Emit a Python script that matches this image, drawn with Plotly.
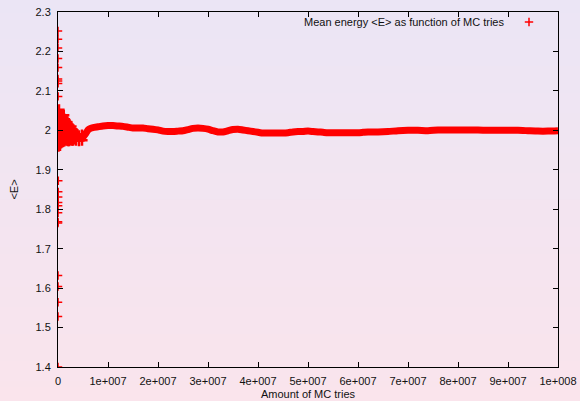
import plotly.graph_objects as go

# ---------------- data ----------------
legend_label = "Mean energy <E> as function of MC tries"
x_title = "Amount of MC tries"
y_title = "<E>"

x_tick_vals = [0, 1e7, 2e7, 3e7, 4e7, 5e7, 6e7, 7e7, 8e7, 9e7, 1e8]
x_tick_text = ["0", "1e+007", "2e+007", "3e+007", "4e+007", "5e+007",
               "6e+007", "7e+007", "8e+007", "9e+007", "1e+008"]
y_tick_vals = [1.4, 1.5, 1.6, 1.7, 1.8, 1.9, 2.0, 2.1, 2.2, 2.3]
y_tick_text = ["1.4", "1.5", "1.6", "1.7", "1.8", "1.9", "2", "2.1", "2.2", "2.3"]

# first few MC tries: widely scattered running means
early_x = [1e3, 2e3, 3e3, 4e3, 5e3, 6e3, 7e3, 8e3, 9e3, 1e4, 1.2e4,
           1.4e4, 1.6e4, 1.8e4, 2e4, 2.3e4, 2.6e4, 3e4, 3.5e4, 4e4, 5e4, 6e4]
early_E = [1.400, 2.252, 1.528, 2.231, 1.564, 2.209, 1.604, 2.182, 1.632, 2.159,
           1.765, 2.130, 1.768, 2.125, 1.791, 2.119, 1.809, 2.086, 1.817, 1.831,
           1.844, 1.872]

# noisy start (0 - 6e6 tries)
blob_x = [1e5]*7 + [2e5]*6 + [3e5]*6 + [4e5]*6 + [5e5]*6 + [6e5]*5 + [7e5]*5 + \
         [8.5e5]*5 + [1.0e6]*5 + [1.15e6]*4 + [1.3e6]*4 + [1.45e6]*4 + \
         [1.6e6]*4 + [1.8e6]*4 + [2.0e6]*4 + [2.2e6]*4 + [2.4e6]*3 + [2.6e6]*3 + \
         [2.8e6]*3 + [3.0e6]*3 + [3.2e6]*2 + [3.6e6]*2 + [4.2e6]*2 + [4.8e6]*2
blob_E = [2.048, 2.035, 2.020, 2.005, 1.990, 1.975, 1.960,
          2.052, 2.035, 2.015, 1.995, 1.978, 1.962,
          2.040, 2.022, 2.005, 1.990, 1.975, 1.965,
          2.038, 2.020, 2.000, 1.985, 1.972, 1.962,
          2.035, 2.025, 2.010, 1.995, 1.980, 1.970,
          2.030, 2.012, 1.995, 1.980, 1.968,
          2.030, 2.012, 1.997, 1.982, 1.970,
          2.035, 2.018, 2.000, 1.985, 1.972,
          2.032, 2.015, 2.000, 1.985, 1.975,
          2.038, 2.020, 2.000, 1.980,
          2.028, 2.010, 1.995, 1.978,
          2.025, 2.008, 1.990, 1.976,
          2.018, 2.003, 1.990, 1.978,
          2.020, 2.002, 1.988, 1.975,
          2.015, 2.000, 1.985, 1.974,
          2.012, 1.998, 1.984, 1.974,
          2.008, 1.992, 1.976,
          2.010, 1.995, 1.978,
          2.003, 1.988, 1.975,
          2.000, 1.986, 1.975,
          1.995, 1.978,
          1.990, 1.975,
          1.986, 1.974,
          1.988, 1.975]

# converged running mean (centre of the dense band), MC tries in millions
band_x_mil = [0.3, 1, 2, 3, 3.5, 4.5, 5, 5.5, 6, 6.5, 7, 8, 9, 10, 11, 12, 13, 14,
              15, 16, 17, 18, 19, 20, 21, 22, 23, 24, 25, 26, 27, 28, 29, 30, 31,
              32, 33, 34, 35, 36, 37, 38, 39, 40, 41, 42, 43, 44, 45, 46, 47, 48,
              49, 50, 51, 52, 53, 54, 56, 58, 60, 61, 62, 64, 66, 68, 70, 72, 74,
              76, 78, 80, 82, 84, 86, 88, 90, 92, 94, 96, 98, 100]
band_E = [2.000, 2.000, 1.995, 1.987, 1.983, 1.981, 1.983, 1.991, 2.001, 2.005,
          2.007, 2.009, 2.011, 2.012, 2.012, 2.011, 2.010, 2.008, 2.006, 2.006,
          2.006, 2.004, 2.003, 2.001, 1.998, 1.997, 1.997, 1.998, 1.999, 2.002,
          2.005, 2.006, 2.005, 2.003, 1.999, 1.996, 1.996, 1.999, 2.002, 2.003,
          2.001, 1.999, 1.997, 1.995, 1.993, 1.993, 1.993, 1.993, 1.993, 1.994,
          1.996, 1.997, 1.997, 1.998, 1.997, 1.996, 1.995, 1.994, 1.994, 1.994,
          1.994, 1.995, 1.996, 1.996, 1.997, 1.999, 2.000, 2.000, 1.999, 2.001,
          2.001, 2.001, 2.001, 2.001, 2.000, 2.000, 2.000, 2.000, 1.999, 1.998,
          1.998, 1.999]
band_x = [v * 1e6 for v in band_x_mil]

# ---------------- figure ----------------
W, H = 580, 401
L, R, T, B = 58, 22, 12, 34
PW, PH = W - L - R, H - T - B

RED = "#ff0000"
FONT = "Liberation Sans, Arial, Helvetica, sans-serif"

fig = go.Figure()

fig.add_trace(go.Scatter(
    x=band_x, y=band_E, mode="lines",
    line=dict(color=RED, width=7, shape="spline", smoothing=0.6),
    showlegend=False, hoverinfo="skip"))

fig.add_trace(go.Scatter(
    x=blob_x, y=blob_E, mode="markers",
    marker=dict(symbol="cross-thin", size=8, color=RED,
                line=dict(color=RED, width=2.5)),
    showlegend=False))

fig.add_trace(go.Scatter(
    x=early_x, y=early_E, mode="markers", name=" ",
    marker=dict(symbol="cross-thin", size=6, color=RED,
                line=dict(color=RED, width=1.5)),
    showlegend=True))

# background gradient (lavender at top to pink at bottom)
top_rgb = (235, 229, 245)
bot_rgb = (250, 228, 236)
N = 60
shapes = []
y0_paper = -B / PH
y1_paper = 1 + T / PH
for i in range(N):
    f = (i + 0.5) / N
    c = tuple(round(top_rgb[k] + (bot_rgb[k] - top_rgb[k]) * f) for k in range(3))
    ya = y1_paper - (y1_paper - y0_paper) * i / N
    yb = y1_paper - (y1_paper - y0_paper) * (i + 1) / N
    shapes.append(dict(type="rect", xref="paper", yref="paper",
                       x0=-L / PW - 0.01, x1=1 + R / PW + 0.01,
                       y0=yb - 0.002, y1=ya + 0.002,
                       fillcolor="rgb(%d,%d,%d)" % c, line=dict(width=0),
                       layer="below"))

axis_common = dict(showline=True, linecolor="black", linewidth=1, mirror="ticks",
                   ticks="inside", ticklen=5, tickwidth=1, tickcolor="black",
                   showgrid=False, zeroline=False, automargin=False,
                   tickfont=dict(family=FONT, size=11, color="#111111"))

fig.update_layout(
    width=W, height=H,
    margin=dict(l=L, r=R, t=T, b=B, pad=0, autoexpand=False),
    paper_bgcolor="rgb(242,229,241)",
    plot_bgcolor="rgba(0,0,0,0)",
    shapes=shapes,
    font=dict(family=FONT, size=11, color="#111111"),
    xaxis=dict(range=[0, 1e8], tickvals=x_tick_vals, ticktext=x_tick_text,
               title=dict(text=x_title, standoff=4, font=dict(size=11)),
               ticklabelstandoff=4, **axis_common),
    yaxis=dict(range=[1.4, 2.3], tickvals=y_tick_vals, ticktext=y_tick_text,
               title=dict(text=y_title, standoff=14, font=dict(size=11)),
               ticklabelstandoff=4, **axis_common),
    legend=dict(x=0.902, y=0.972, xanchor="left", yanchor="middle",
                bgcolor="rgba(0,0,0,0)", borderwidth=0,
                font=dict(size=11), itemwidth=30),
    annotations=[dict(text=legend_label, xref="paper", yref="paper",
                      x=(506 - L) / PW, y=1 - (22 - T) / PH,
                      xanchor="right", yanchor="middle", showarrow=False,
                      font=dict(family=FONT, size=11, color="#111111"))],
)

fig.write_html("out.html",
               config={"displayModeBar": False},
               post_script="document.body.style.margin='0';"
                           "document.body.style.padding='0';")
